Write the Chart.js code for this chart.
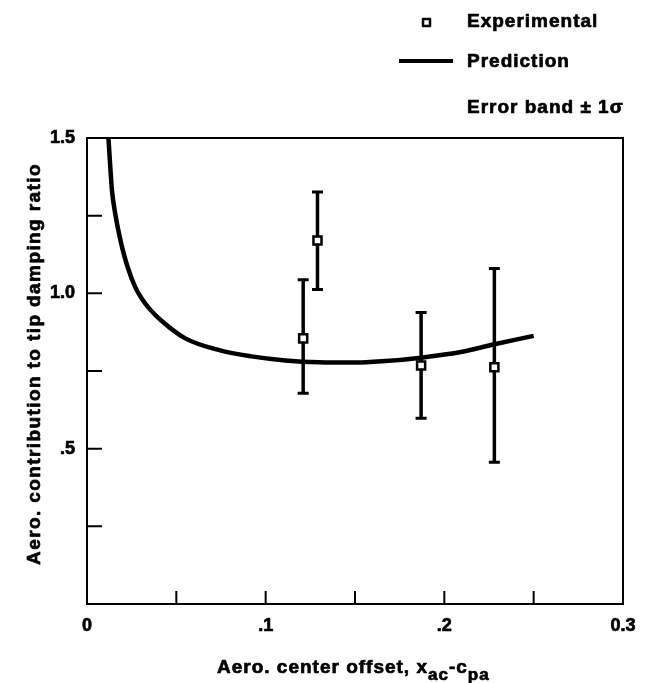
<!DOCTYPE html>
<html lang="en">
<head>
<meta charset="UTF-8">
<title>Aero. contribution to tip damping ratio</title>
<style>
  body { margin: 0; background: #fff; }
  canvas { display: block; }
</style>
</head>
<body>
<canvas id="chart" width="648" height="683"></canvas>
<script src="https://cdn.jsdelivr.net/npm/chart.js@4.4.0/dist/chart.umd.min.js"></script>
<script>
// experimental points
const expX = [0.121, 0.129, 0.187, 0.228];
const expY = [0.855, 1.17, 0.768, 0.762];
const errLow = [0.678, 1.012, 0.598, 0.456];
const errHigh = [1.044, 1.326, 0.938, 1.08];

// prediction curve
const predX = [0.012, 0.014, 0.016, 0.018, 0.020, 0.023, 0.027, 0.031, 0.035, 0.042, 0.055, 0.074, 0.092, 0.111, 0.13, 0.15, 0.165, 0.187, 0.21, 0.228, 0.25];
const predY = [1.5, 1.33, 1.25, 1.19, 1.14, 1.08, 1.02, 0.98, 0.95, 0.91, 0.855, 0.817, 0.797, 0.784, 0.778, 0.777, 0.781, 0.793, 0.812, 0.836, 0.863];

// axis ticks
const xTicks = [0, 0.05, 0.1, 0.15, 0.2, 0.25, 0.3];
const xTickLabels = ['0', '', '.1', '', '.2', '', '0.3'];
const yTicks = [0.25, 0.5, 0.75, 1.0, 1.25, 1.5];
const yTickLabels = ['', '.5', '', '1.0', '', '1.5'];

const FONT = '"Liberation Sans", Arial, sans-serif';

// scanned print looks heavy, so fill and outline the glyphs
function ink(ctx, str, x, y, spacing) {
  ctx.letterSpacing = (spacing || 0) + 'px';
  ctx.lineWidth = 0.7;
  ctx.lineJoin = 'round';
  ctx.fillText(str, x, y);
  ctx.strokeText(str, x, y);
  const w = ctx.measureText(str).width;
  ctx.letterSpacing = '0px';
  return w;
}

const paperPlugin = {
  id: 'paper',
  beforeDatasetsDraw(chart) {
    const ctx = chart.ctx;
    const xs = chart.scales.x, ys = chart.scales.y;
    ctx.save();
    ctx.strokeStyle = '#000';
    ctx.lineCap = 'butt';
    for (let i = 0; i < expX.length; i++) {
      const px = xs.getPixelForValue(expX[i]);
      const top = ys.getPixelForValue(errHigh[i]);
      const bot = ys.getPixelForValue(errLow[i]);
      ctx.lineWidth = 3.5;
      ctx.beginPath();
      ctx.moveTo(px, top);
      ctx.lineTo(px, bot);
      ctx.stroke();
      ctx.lineWidth = 3;
      ctx.beginPath();
      ctx.moveTo(px - 5.5, top);
      ctx.lineTo(px + 5.5, top);
      ctx.moveTo(px - 5.5, bot);
      ctx.lineTo(px + 5.5, bot);
      ctx.stroke();
    }
    ctx.restore();
  },
  afterDraw(chart) {
    const ctx = chart.ctx;
    const a = chart.chartArea;
    const xs = chart.scales.x, ys = chart.scales.y;
    ctx.save();
    ctx.strokeStyle = '#000';
    ctx.fillStyle = '#000';

    // frame
    ctx.lineWidth = 2;
    ctx.strokeRect(a.left, a.top, a.right - a.left, a.bottom - a.top);

    // inward ticks
    ctx.beginPath();
    xTicks.forEach(v => {
      if (v <= 0 || v >= 0.3) return;
      const px = xs.getPixelForValue(v);
      ctx.moveTo(px, a.bottom);
      ctx.lineTo(px, a.bottom - 13);
    });
    yTicks.forEach(v => {
      if (v >= 1.5) return;
      const py = ys.getPixelForValue(v);
      ctx.moveTo(a.left, py);
      ctx.lineTo(a.left + 15, py);
    });
    ctx.stroke();

    // tick labels
    ctx.font = 'bold 18px ' + FONT;
    ctx.textAlign = 'center';
    ctx.textBaseline = 'middle';
    xTicks.forEach((v, i) => {
      if (xTickLabels[i]) ink(ctx, xTickLabels[i], xs.getPixelForValue(v), a.bottom + 22);
    });
    ctx.textAlign = 'right';
    yTicks.forEach((v, i) => {
      if (yTickLabels[i]) ink(ctx, yTickLabels[i], a.left - 12, ys.getPixelForValue(v));
    });

    // y title
    ctx.save();
    ctx.translate(35, 364);
    ctx.rotate(-Math.PI / 2);
    ctx.font = 'bold 19px ' + FONT;
    ctx.textAlign = 'center';
    ink(ctx, 'Aero. contribution to tip damping ratio', 0, 0, 1.4);
    ctx.restore();

    // x title with subscripts
    ctx.textAlign = 'left';
    ctx.textBaseline = 'alphabetic';
    const parts = [
      ['Aero. center offset, x', 0, 19],
      ['ac', 7, 17],
      ['-c', 0, 19],
      ['pa', 7, 17]
    ];
    let tx = 217;
    const base = 673;
    parts.forEach(p => {
      ctx.font = 'bold ' + p[2] + 'px ' + FONT;
      tx += ink(ctx, p[0], tx, base + p[1], 1);
    });

    // legend
    ctx.font = 'bold 19px ' + FONT;
    ctx.textBaseline = 'middle';
    ctx.lineWidth = 2.5;
    ctx.fillStyle = '#fff';
    ctx.fillRect(423, 19, 7, 7);
    ctx.strokeRect(423, 19, 7, 7);
    ctx.fillStyle = '#000';
    ink(ctx, 'Experimental', 467, 22, 1);
    ctx.lineWidth = 4;
    ctx.beginPath();
    ctx.moveTo(399, 61);
    ctx.lineTo(453, 61);
    ctx.stroke();
    ink(ctx, 'Prediction', 467, 62, 1);
    ink(ctx, 'Error band \u00b1 1\u03c3', 467, 108, 1);

    ctx.restore();
  }
};

new Chart(document.getElementById('chart'), {
  type: 'scatter',
  data: {
    datasets: [
      {
        label: 'Prediction',
        data: predX.map((x, i) => ({ x: x, y: predY[i] })),
        showLine: true,
        borderColor: '#000',
        borderWidth: 4.5,
        pointRadius: 0,
        cubicInterpolationMode: 'monotone',
        order: 2
      },
      {
        label: 'Experimental',
        data: expX.map((x, i) => ({ x: x, y: expY[i] })),
        pointStyle: 'rect',
        pointRadius: 5.7,
        pointBackgroundColor: '#fff',
        pointBorderColor: '#000',
        pointBorderWidth: 2.5,
        order: 1
      }
    ]
  },
  options: {
    responsive: false,
    animation: false,
    events: [],
    layout: { padding: { top: 138, right: 25, left: 0, bottom: 0 } },
    plugins: {
      legend: { display: false },
      tooltip: { enabled: false }
    },
    scales: {
      x: {
        type: 'linear',
        min: 0,
        max: 0.3,
        grid: { display: false },
        border: { display: false },
        ticks: { display: false },
        afterFit(scale) { scale.height = 79; }
      },
      y: {
        type: 'linear',
        min: 0,
        max: 1.5,
        grid: { display: false },
        border: { display: false },
        ticks: { display: false },
        afterFit(scale) { scale.width = 87; }
      }
    }
  },
  plugins: [paperPlugin]
});
</script>
</body>
</html>
